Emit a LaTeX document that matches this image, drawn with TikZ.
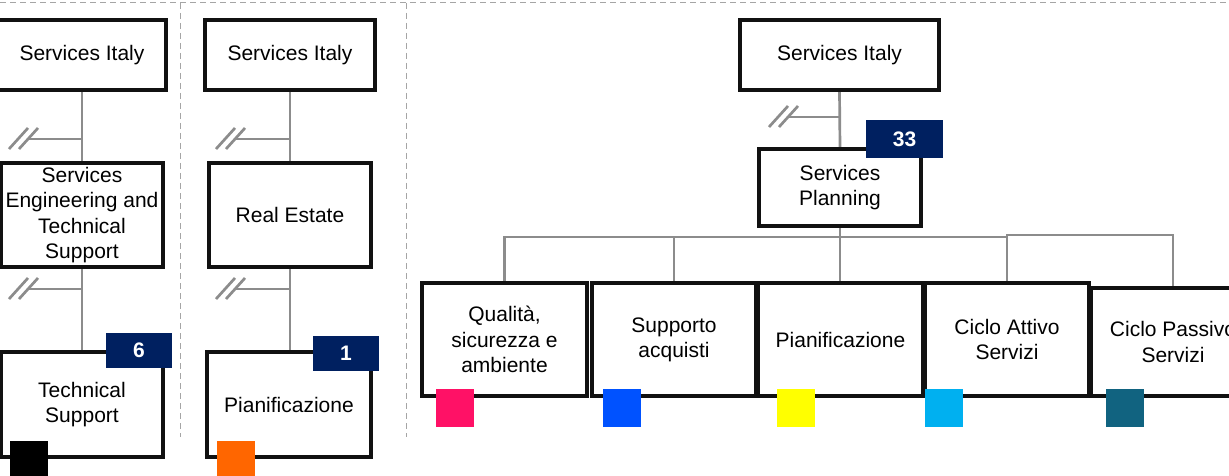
\documentclass[tikz,border=0pt]{standalone}
\usepackage{fontspec}
\setmainfont{Liberation Sans}
\begin{document}
\definecolor{badgenavy}{RGB}{0,32,96}
\definecolor{linegray}{RGB}{140,140,140}
\definecolor{framegray}{RGB}{165,165,165}
\definecolor{boxblack}{RGB}{17,17,17}
\definecolor{sqmagenta}{RGB}{255,17,102}
\definecolor{sqblue}{RGB}{0,82,255}
\definecolor{sqyellow}{RGB}{255,255,0}
\definecolor{sqcyan}{RGB}{0,176,240}
\definecolor{sqteal}{RGB}{17,99,128}
\definecolor{sqorange}{RGB}{255,102,0}
\begin{tikzpicture}[x=1pt,y=-1pt,
  box/.style={draw=boxblack,line width=2.6pt,fill=white,inner sep=0pt,align=center,
    font=\fontsize{21}{25.3}\selectfont},
  badge/.style={fill=badgenavy,text=white,inner sep=0pt,
    font=\fontsize{21}{25}\selectfont\bfseries},
  marker/.style={inner sep=0pt,minimum width=38,minimum height=38},
  conn/.style={draw=linegray,line width=2.7pt},
  frame/.style={draw=framegray,line width=1pt,dash pattern=on 6pt off 4pt},
  pics/cutmark/.style={code={
    \draw[draw=linegray,line width=2.7pt] (-19,10) -- (0,-11);
    \draw[draw=linegray,line width=2.7pt] (-9,10) -- (10,-11);}}]
\useasboundingbox[fill=white] (0,0) rectangle (1229,476);

% panel separators
\draw[frame] (0,3) -- (1229,3);
\draw[frame] (180,3) -- (180,437);
\draw[frame] (406,3) -- (406,437);

% ---- panel 1 ----
\node[box,minimum width=166,minimum height=68] (p1top) at (82,55) {Services Italy};
\node[box,minimum width=160,minimum height=102] (p1mid) at (82,215)
  {Services\\Engineering and\\Technical\\Support};
\node[box,minimum width=160,minimum height=103] (p1bot) at (82,404.5) {Technical\\Support};
\coordinate (p1a) at (28,139);
\coordinate (p1b) at (28,289);

% ---- panel 2 ----
\node[box,minimum width=168,minimum height=68] (p2top) at (290,55) {Services Italy};
\node[box,minimum width=160,minimum height=102] (p2mid) at (290,215) {Real Estate};
\node[box,minimum width=162,minimum height=103] (p2bot) at (289,404.5) {Pianificazione};
\coordinate (p2a) at (235,139);
\coordinate (p2b) at (235,289);

% ---- panel 3 ----
\node[box,minimum width=197,minimum height=68] (p3top) at (839.5,55) {Services Italy};
\node[box,minimum width=160,minimum height=75] (plan) at (840,187.5) {Services\\Planning};
\node[box,minimum width=163,minimum height=111] (q) at (504.5,339.5) {Qualità,\\sicurezza e\\ambiente};
\node[box,minimum width=162,minimum height=111] (s) at (674,339.5) {Supporto\\acquisti};
\node[box,minimum width=163,minimum height=111] (pi) at (840.5,339.5) {Pianificazione};
\node[box,minimum width=162,minimum height=111] (ca) at (1007,339.5) {Ciclo Attivo\\Servizi};
\node[box,minimum width=162,minimum height=106] (cp) at (1173,342) {Ciclo Passivo\\Servizi};
\coordinate (p3a) at (788,117);
\coordinate (bus) at (840,237);

% connectors
\draw[conn] (p1top.south) -- (p1mid.north);
\draw[conn] (p1a) -- (p1a -| p1top.south);
\draw[conn] (p1mid.south) -- (p1bot.north);
\draw[conn] (p1b) -- (p1b -| p1mid.south);
\draw[conn] (p2top.south) -- (p2mid.north);
\draw[conn] (p2a) -- (p2a -| p2top.south);
\draw[conn] (p2mid.south) -- (p2mid.south |- p2bot.north);
\draw[conn] (p2b) -- (p2b -| p2mid.south);
\draw[conn] (p3top.south) -- (plan.north);
\draw[conn] (p3a) -- (p3a -| p3top.south);
\draw[conn] (plan.south) -- (plan.south |- pi.north);
\draw[conn] (q.north) |- (ca.north |- bus) -- (ca.north);
\draw[conn] (s.north) -- (s.north |- bus);
\draw[conn] (ca.north |- bus) -- ++(0,-2) -| (cp.north);
\pic at (p1a) {cutmark};
\pic at (p1b) {cutmark};
\pic at (p2a) {cutmark};
\pic at (p2b) {cutmark};
\pic at (p3a) {cutmark};

% box outlines drawn again over the connector ends
\foreach \n in {p1top,p1mid,p1bot,p2top,p2mid,p2bot,p3top,plan,q,s,pi,ca,cp}
  \draw[draw=boxblack,line width=2.6pt] (\n.north west) rectangle (\n.south east);

% head-count badges
\node[badge,minimum width=66,minimum height=35] (b6) at (139,350.5) {6};
\node[badge,minimum width=66,minimum height=35] (b1) at (346,353.5) {1};
\node[badge,minimum width=77,minimum height=38] (b33) at (904.5,139) {33};

% colour markers
\node[marker,fill=black] (mk1) at (29,460) {};
\node[marker,fill=sqorange] (mk2) at (236,460) {};
\node[marker,fill=sqmagenta] (mk3) at (455,408) {};
\node[marker,fill=sqblue] (mk4) at (622,408) {};
\node[marker,fill=sqyellow] (mk5) at (796,408) {};
\node[marker,fill=sqcyan] (mk6) at (944,408) {};
\node[marker,fill=sqteal] (mk7) at (1125,408) {};
\end{tikzpicture}
\end{document}
